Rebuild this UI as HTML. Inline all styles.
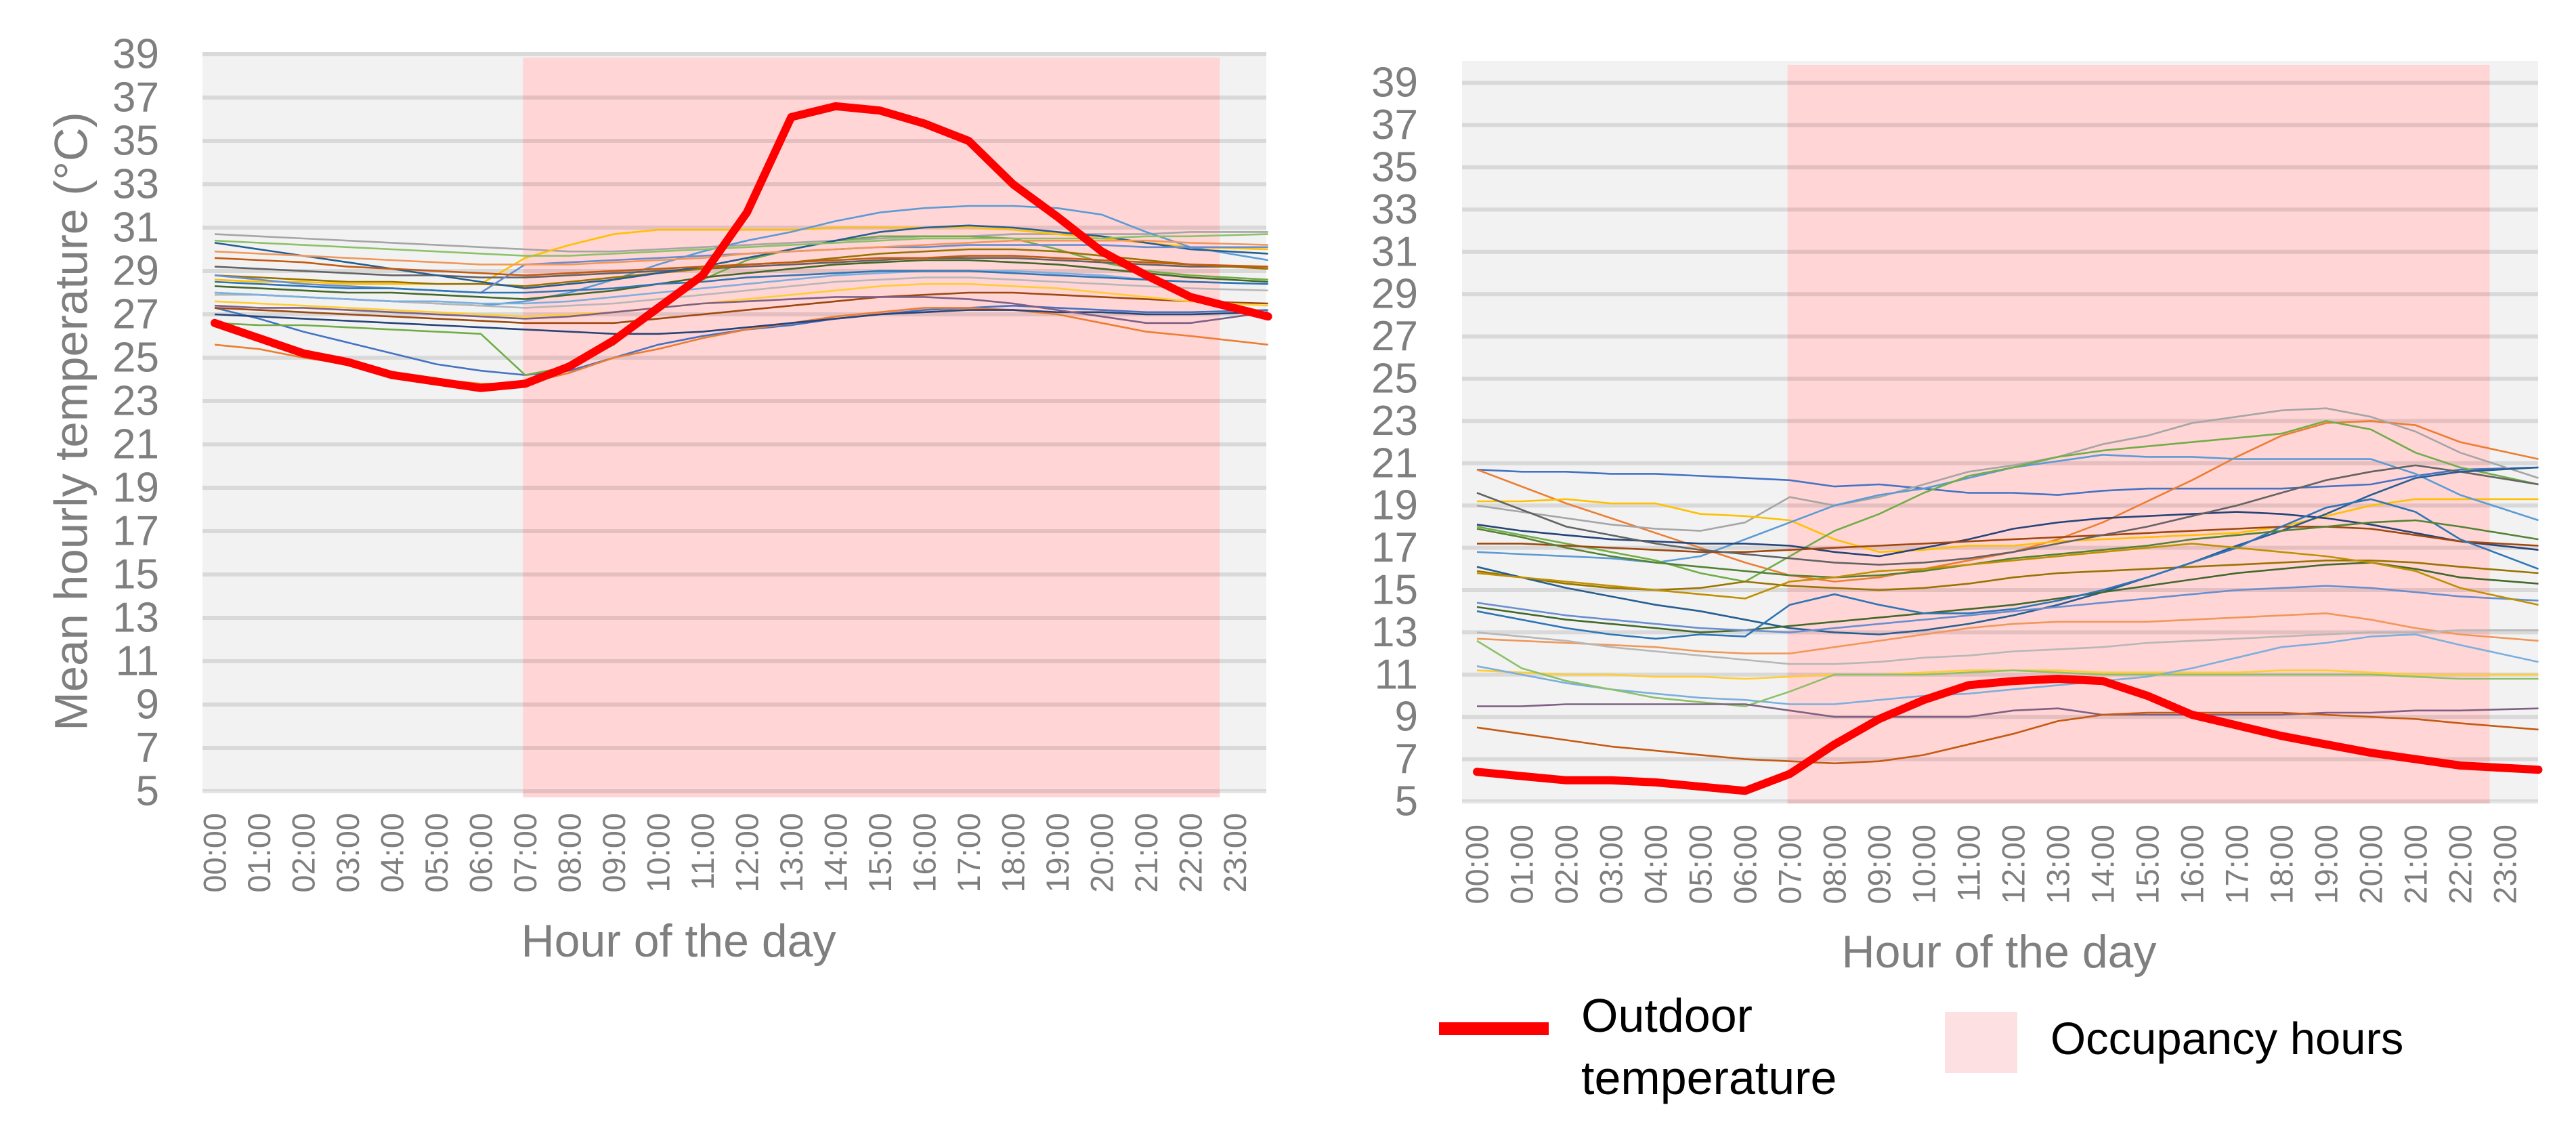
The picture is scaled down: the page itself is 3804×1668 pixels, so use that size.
<!DOCTYPE html>
<html><head><meta charset="utf-8">
<style>
html,body{margin:0;padding:0;background:#fff;}
svg{display:block;font-family:"Liberation Sans",sans-serif;}
</style></head>
<body>
<svg id="chart" width="3804" height="1668" viewBox="0 0 3804 1668" xmlns="http://www.w3.org/2000/svg">
  <g id="left"></g>
  <g id="right"></g>
  <text x="0" y="0" transform="translate(105,622) rotate(-90)" text-anchor="middle" dominant-baseline="central" font-size="69" fill="#7f7f7f">Mean hourly temperature (°C)</text>
  <text x="1002" y="1412" text-anchor="middle" font-size="68" fill="#7f7f7f">Hour of the day</text>
  <text x="2952" y="1428" text-anchor="middle" font-size="68" fill="#7f7f7f">Hour of the day</text>
  <g>
    <rect x="2125" y="1509" width="162" height="19" fill="#ff0000"/>
    <text x="2335" y="1523" font-size="70" fill="#000">Outdoor</text>
    <text x="2335" y="1615" font-size="70" fill="#000">temperature</text>
    <rect x="2872" y="1494" width="107" height="90" fill="#fde0e2"/>
    <text x="3028" y="1556" font-size="67" fill="#000">Occupancy hours</text>
  </g>
</svg>
<script>
const hours = [0,1,2,3,4,5,6,7,8,9,10,11,12,13,14,15,16,17,18,19,20,21,22,23.75];
const hourLabels = ["00:00","01:00","02:00","03:00","04:00","05:00","06:00","07:00","08:00","09:00","10:00","11:00","12:00","13:00","14:00","15:00","16:00","17:00","18:00","19:00","20:00","21:00","22:00","23:00"];
const yTicks = [5,7,9,11,13,15,17,19,21,23,25,27,29,31,33,35,37,39];
const occupancyStart = 6.95;
const occupancyEnd = 22.66;
const palette = ["#4472c4","#ed7d31","#a5a5a5","#ffc000","#5b9bd5","#70ad47","#264478","#9e480e","#636363","#997300","#255e91","#43682b","#698ed0","#f1975a","#b7b7b7","#ffcd33","#7cafdd","#8cc168","#7f6084","#c55a11","#2e75b6","#548235","#bf9000"];

const leftOutdoor = [26.6,25.9,25.2,24.8,24.2,23.9,23.6,23.8,24.6,25.8,27.3,28.8,31.7,36.1,36.6,36.4,35.8,35.0,33.0,31.5,29.9,28.8,27.8,26.9];
const leftRooms = [
[27.3,26.8,26.2,25.7,25.2,24.7,24.4,24.2,24.4,25.0,25.6,26.0,26.3,26.5,26.8,27.0,27.2,27.3,27.4,27.3,27.2,27.1,27.1,27.2],
[25.6,25.4,25.0,24.7,24.3,24.0,23.8,23.8,24.3,25.0,25.4,25.9,26.3,26.6,26.9,27.1,27.3,27.3,27.2,27.0,26.6,26.2,26.0,25.6],
[30.7,30.6,30.5,30.4,30.3,30.2,30.1,30.0,29.9,29.9,30.0,30.1,30.2,30.3,30.4,30.5,30.6,30.6,30.7,30.7,30.7,30.7,30.8,30.8],
[28.6,28.5,28.5,28.4,28.4,28.4,28.4,29.6,30.2,30.7,30.9,30.9,30.9,30.9,31.0,31.0,31.0,31.0,30.9,30.7,30.5,30.3,30.1,30.0],
[28.0,27.9,27.8,27.7,27.6,27.5,27.4,27.6,28.0,28.6,29.3,29.9,30.4,30.8,31.3,31.7,31.9,32.0,32.0,31.9,31.6,30.8,30.1,29.5],
[26.6,26.5,26.5,26.4,26.3,26.2,26.1,24.2,24.6,25.6,27.3,28.6,29.5,30.0,30.4,30.6,30.6,30.6,30.5,30.0,29.4,29.0,28.8,28.6],
[27.0,26.9,26.8,26.7,26.6,26.5,26.4,26.3,26.2,26.1,26.1,26.2,26.4,26.6,26.8,27.0,27.1,27.2,27.2,27.1,27.1,27.0,27.0,27.1],
[27.3,27.2,27.1,27.0,26.9,26.8,26.7,26.6,26.6,26.6,26.8,27.0,27.2,27.4,27.6,27.8,27.9,28.0,28.0,27.9,27.8,27.7,27.6,27.5],
[29.2,29.1,29.0,28.9,28.8,28.8,28.7,28.7,28.8,28.9,29.0,29.1,29.2,29.3,29.4,29.5,29.6,29.6,29.6,29.5,29.4,29.3,29.2,29.2],
[28.8,28.7,28.6,28.5,28.5,28.4,28.4,28.3,28.5,28.7,28.9,29.1,29.3,29.4,29.6,29.8,29.9,30.0,30.0,29.9,29.7,29.5,29.3,29.1],
[30.3,30.0,29.7,29.4,29.1,28.8,28.5,28.2,28.4,28.6,28.9,29.2,29.6,30.0,30.4,30.8,31.0,31.1,31.0,30.8,30.6,30.3,30.0,29.8],
[28.3,28.2,28.1,28.0,28.0,27.9,27.8,27.7,27.9,28.1,28.4,28.7,28.9,29.1,29.3,29.4,29.5,29.5,29.4,29.3,29.1,28.9,28.7,28.5],
[28.8,28.6,28.4,28.3,28.2,28.1,28.0,29.3,29.4,29.5,29.6,29.7,29.8,29.9,30.0,30.1,30.1,30.2,30.2,30.2,30.2,30.1,30.1,30.1],
[29.9,29.8,29.7,29.6,29.5,29.4,29.3,29.3,29.3,29.4,29.5,29.6,29.8,29.9,30.0,30.1,30.2,30.3,30.4,30.4,30.4,30.4,30.3,30.2],
[27.9,27.9,27.8,27.7,27.6,27.5,27.4,27.3,27.4,27.5,27.7,27.9,28.1,28.3,28.5,28.6,28.7,28.7,28.6,28.5,28.4,28.3,28.2,28.1],
[27.6,27.5,27.4,27.3,27.2,27.1,27.0,26.9,27.0,27.1,27.3,27.5,27.7,27.9,28.1,28.3,28.4,28.4,28.3,28.2,28.0,27.8,27.6,27.4],
[28.0,27.9,27.8,27.7,27.6,27.6,27.5,27.5,27.6,27.8,28.0,28.2,28.4,28.6,28.8,28.9,29.0,29.0,29.0,28.9,28.8,28.6,28.5,28.4],
[30.4,30.3,30.2,30.1,30.0,29.9,29.8,29.7,29.7,29.8,29.9,30.0,30.1,30.2,30.3,30.4,30.5,30.5,30.5,30.5,30.5,30.6,30.6,30.7],
[27.4,27.3,27.3,27.2,27.1,27.0,26.9,26.8,26.9,27.1,27.3,27.5,27.6,27.7,27.8,27.8,27.8,27.7,27.5,27.2,26.9,26.6,26.6,27.1],
[29.6,29.5,29.4,29.2,29.1,29.0,28.9,28.8,28.9,29.0,29.1,29.2,29.3,29.4,29.5,29.6,29.6,29.7,29.7,29.6,29.5,29.4,29.3,29.2],
[28.5,28.4,28.3,28.2,28.2,28.1,28.0,28.0,28.1,28.2,28.4,28.5,28.7,28.8,28.9,29.0,29.0,29.0,28.9,28.8,28.7,28.6,28.5,28.4]
];

const rightOutdoor = [6.4,6.2,6.0,6.0,5.9,5.7,5.5,6.3,7.7,8.9,9.8,10.5,10.7,10.8,10.7,10.0,9.1,8.6,8.1,7.7,7.3,7.0,6.7,6.5];
const rightRooms = [
[20.7,20.6,20.6,20.5,20.5,20.4,20.3,20.2,19.9,20.0,19.8,19.6,19.6,19.5,19.7,19.8,19.8,19.8,19.8,19.9,20.0,20.4,20.7,20.8],
[20.7,19.9,19.1,18.4,17.7,17.0,16.3,15.7,15.4,15.6,16.0,16.4,16.8,17.4,18.2,19.2,20.2,21.3,22.3,22.9,23.0,22.8,22.0,21.2],
[19.0,18.7,18.4,18.1,17.9,17.8,18.2,19.4,19.0,19.4,20.0,20.6,20.9,21.3,21.9,22.3,22.9,23.2,23.5,23.6,23.2,22.5,21.5,20.3],
[19.2,19.2,19.3,19.1,19.1,18.6,18.5,18.3,17.4,16.8,16.9,17.1,17.1,17.3,17.4,17.5,17.6,17.7,18.0,18.5,19.0,19.3,19.3,19.3],
[16.8,16.7,16.6,16.5,16.3,16.6,17.4,18.2,19.0,19.5,19.8,20.3,20.8,21.1,21.4,21.3,21.3,21.2,21.2,21.2,21.2,20.5,19.5,18.3],
[18.0,17.6,17.2,16.8,16.4,15.8,15.4,16.6,17.8,18.6,19.6,20.4,20.8,21.3,21.6,21.8,22.0,22.2,22.4,23.0,22.6,21.5,20.8,20.0],
[18.1,17.8,17.6,17.4,17.3,17.2,17.2,17.1,16.8,16.6,17.0,17.4,17.9,18.2,18.4,18.5,18.6,18.7,18.6,18.4,18.1,17.7,17.3,16.9],
[17.2,17.2,17.1,17.0,16.9,16.8,16.8,16.9,17.0,17.1,17.2,17.3,17.4,17.5,17.6,17.7,17.8,17.9,18.0,18.0,17.9,17.6,17.3,17.1],
[19.6,18.8,18.0,17.6,17.2,16.9,16.7,16.5,16.3,16.2,16.3,16.5,16.8,17.2,17.6,18.0,18.5,19.0,19.6,20.2,20.6,20.9,20.6,20.0],
[15.9,15.6,15.3,15.1,15.0,15.1,15.4,15.2,15.1,15.0,15.1,15.3,15.6,15.8,15.9,16.0,16.1,16.2,16.3,16.4,16.4,16.3,16.1,15.8],
[16.1,15.6,15.1,14.7,14.3,14.0,13.6,13.2,13.0,12.9,13.1,13.4,13.8,14.3,14.9,15.6,16.3,17.1,17.8,18.6,19.5,20.3,20.6,20.8],
[14.2,13.9,13.6,13.4,13.2,13.0,13.1,13.3,13.5,13.7,13.9,14.1,14.3,14.6,14.9,15.2,15.5,15.8,16.0,16.2,16.3,16.0,15.6,15.3],
[14.4,14.1,13.8,13.6,13.4,13.2,13.1,13.0,13.2,13.4,13.6,13.8,14.0,14.2,14.4,14.6,14.8,15.0,15.1,15.2,15.1,14.9,14.7,14.5],
[12.7,12.6,12.5,12.4,12.3,12.1,12.0,12.0,12.3,12.6,12.9,13.2,13.4,13.5,13.5,13.5,13.6,13.7,13.8,13.9,13.6,13.2,12.9,12.6],
[13.0,12.8,12.6,12.3,12.1,11.9,11.7,11.5,11.5,11.6,11.8,11.9,12.1,12.2,12.3,12.5,12.6,12.7,12.8,12.9,13.0,13.0,13.1,13.1],
[11.2,11.1,11.0,11.0,10.9,10.9,10.8,10.9,11.0,11.0,11.1,11.2,11.2,11.2,11.1,11.1,11.1,11.1,11.2,11.2,11.1,11.0,11.0,11.0],
[11.4,11.0,10.6,10.3,10.1,9.9,9.8,9.6,9.6,9.8,10.0,10.1,10.3,10.5,10.7,10.9,11.3,11.8,12.3,12.5,12.8,12.9,12.4,11.6],
[12.6,11.3,10.7,10.3,9.9,9.7,9.5,10.2,11.0,11.0,11.0,11.1,11.2,11.1,11.0,11.0,11.0,11.0,11.0,11.0,11.0,10.9,10.8,10.8],
[9.5,9.5,9.6,9.6,9.6,9.6,9.6,9.3,9.0,9.0,9.0,9.0,9.3,9.4,9.1,9.1,9.1,9.1,9.1,9.2,9.2,9.3,9.3,9.4],
[8.5,8.2,7.9,7.6,7.4,7.2,7.0,6.9,6.8,6.9,7.2,7.7,8.2,8.8,9.1,9.2,9.2,9.2,9.2,9.1,9.0,8.9,8.7,8.4],
[14.0,13.6,13.2,12.9,12.7,12.9,12.8,14.3,14.8,14.3,13.9,13.9,14.1,14.5,15.0,15.6,16.3,17.0,18.0,18.9,19.3,18.7,17.4,16.0],
[17.9,17.5,17.0,16.6,16.3,16.1,15.9,15.7,15.6,15.7,15.9,16.2,16.5,16.7,16.9,17.1,17.4,17.6,17.8,18.0,18.2,18.3,18.0,17.4],
[15.8,15.6,15.4,15.2,15.0,14.8,14.6,15.4,15.6,15.9,16.0,16.2,16.4,16.6,16.8,17.0,17.2,17.0,16.8,16.6,16.3,15.9,15.1,14.3]
];

const NS = "http://www.w3.org/2000/svg";
function mk(tag, attrs, parent){
  const el = document.createElementNS(NS, tag);
  for (const k in attrs) el.setAttribute(k, attrs[k]);
  parent.appendChild(el);
  return el;
}

function drawChart(g, cfg, rooms, outdoor, prefix){
  const x = h => cfg.x0 + h * cfg.step;
  const y = v => cfg.yBase - (v - 5) * cfg.perUnit;
  const bg = mk("rect", {x: cfg.left, y: cfg.bgTop, width: cfg.right - cfg.left, height: y(5) - cfg.bgTop, fill: "#f2f2f2"}, g);
  
  
  const occ = mk("rect", {x: x(occupancyStart), y: cfg.pinkTop, width: x(occupancyEnd) - x(occupancyStart), height: cfg.pinkBottom - cfg.pinkTop, fill: "#ffd5d6"}, g);
  
  
  yTicks.forEach(t => {
    const gl = mk("line", {x1: cfg.left, x2: cfg.right, y1: y(t), y2: y(t), stroke: "#000", "stroke-opacity": 0.1, "stroke-width": 6}, g);
    
    
    const tl = mk("text", {x: cfg.labelRight, y: y(t), "text-anchor": "end", "dominant-baseline": "central", "font-size": 62, fill: "#7f7f7f"}, g);
    tl.textContent = t;
    
    
  });
  rooms.forEach((s, i) => {
    const d = s.map((v, j) => (j ? "L" : "M") + x(hours[j]).toFixed(1) + "," + y(v).toFixed(1)).join("");
    const p = mk("path", {d: d, fill: "none", stroke: palette[i % palette.length], "stroke-width": 2.6, "stroke-linejoin": "round"}, g);
    
    
  });
  const od = outdoor.map((v, j) => (j ? "L" : "M") + x(hours[j]).toFixed(1) + "," + y(v).toFixed(1)).join("");
  const op = mk("path", {d: od, fill: "none", stroke: "#ff0000", "stroke-width": 12, "stroke-linejoin": "round", "stroke-linecap": "round"}, g);
  
  
  hourLabels.forEach((lab, i) => {
    const t = mk("text", {transform: "translate(" + x(i) + "," + cfg.xLabelTop + ") rotate(-90)", "text-anchor": "end", "dominant-baseline": "central", "font-size": 47, fill: "#7f7f7f"}, g);
    t.textContent = lab;
    
    
  });
}

drawChart(document.getElementById("left"),
  {x0: 317, step: 65.5, yBase: 1168, perUnit: 32, left: 299, right: 1870, bgTop: 77, pinkTop: 85, pinkBottom: 1177, labelRight: 235, xLabelTop: 1200},
  leftRooms, leftOutdoor, "left");
drawChart(document.getElementById("right"),
  {x0: 2181, step: 66, yBase: 1183, perUnit: 31.2, left: 2159, right: 3748, bgTop: 90, pinkTop: 96, pinkBottom: 1186, labelRight: 2094, xLabelTop: 1217},
  rightRooms, rightOutdoor, "right");
</script>
</body></html>
